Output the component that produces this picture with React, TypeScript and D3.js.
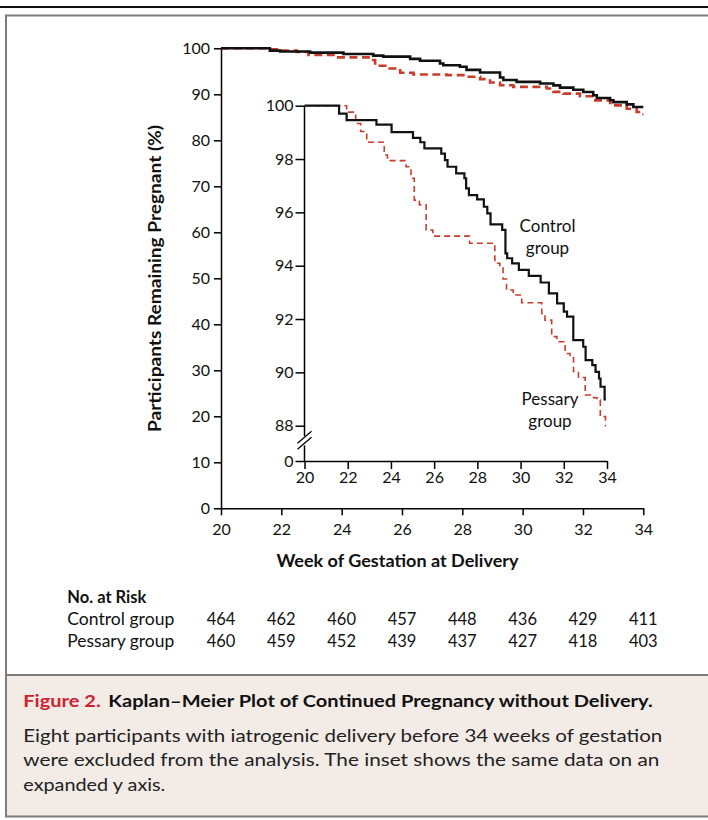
import React, { useEffect, useRef } from 'react';
import * as d3 from 'd3';

const FONT = "Lato, 'Open Sans', sans-serif";
const RED = '#c83c2c';

// axis ticks
const weekTicks = [20, 22, 24, 26, 28, 30, 32, 34];
const mainPctTicks = [0, 10, 20, 30, 40, 50, 60, 70, 80, 90, 100];
const insetPctTicks = [0, 88, 90, 92, 94, 96, 98, 100];

// main panel curves [week, % remaining pregnant]
const controlMain: [number, number][] = [
  [20, 100], [21.62, 99.5], [21.96, 99.3], [22.95, 99.05], [24.06, 98.75], [25.05, 98.4],
  [25.38, 98.2], [26.27, 97.7], [26.6, 97.3], [27.26, 96.7], [27.37, 96.3], [27.92, 96.0],
  [28.14, 95.3], [28.59, 94.75], [29.25, 93.65], [29.36, 93.1], [29.8, 92.7], [30.58, 92.35],
  [31.02, 91.95], [31.24, 91.45], [31.68, 91.0], [32.01, 90.5], [32.34, 89.8], [32.46, 89.2],
  [32.9, 88.7], [33.01, 88.3], [33.45, 87.8], [33.67, 87.25], [34, 87.25],
];
const pessaryMain: [number, number][] = [
  [20, 100], [21.62, 99.78], [21.96, 99.49], [22.51, 99.2], [22.9, 98.54], [23.84, 98.03],
  [24.94, 97.45], [25.11, 96.21], [25.49, 95.62], [25.94, 94.68], [26.38, 94.31], [27.48, 94.17],
  [28.14, 93.8], [28.59, 93.29], [28.92, 92.56], [29.25, 91.98], [29.69, 91.61], [30.8, 91.25],
  [31.02, 90.52], [31.35, 90.15], [31.9, 89.57], [32.34, 88.69], [32.9, 88.11], [33.01, 87.6],
  [33.45, 86.87], [33.78, 86.14], [33.95, 85.63], [34, 85.63],
];

// inset curves (expanded y axis)
const controlInset: [number, number][] = [
  [20, 100], [21.6, 99.7], [21.95, 99.46], [23.33, 99.29], [24.03, 99.01], [25.02, 98.79],
  [25.36, 98.63], [25.55, 98.4], [26.33, 98.2], [26.5, 97.96], [26.62, 97.71], [27.02, 97.46],
  [27.4, 97.28], [27.48, 96.9], [27.61, 96.65], [27.99, 96.49], [28.3, 96.21], [28.46, 95.96],
  [28.61, 95.55], [29.15, 95.34], [29.3, 94.46], [29.38, 94.28], [29.61, 94.09], [29.92, 93.84],
  [30.38, 93.62], [30.93, 93.37], [31.31, 92.96], [31.69, 92.59], [32.0, 92.28], [32.15, 92.09],
  [32.44, 91.21], [32.9, 90.96], [33.01, 90.46], [33.32, 90.27], [33.47, 90.02], [33.63, 89.77],
  [33.7, 89.46], [33.89, 88.99], [33.95, 88.99],
];
const pessaryInset: [number, number][] = [
  [20, 100], [21.95, 99.76], [22.37, 99.33], [22.6, 99.03], [22.88, 98.63], [23.69, 98.15],
  [23.84, 97.94], [24.7, 97.71], [24.93, 97.28], [25.08, 96.46], [25.32, 96.28], [25.63, 95.34],
  [25.94, 95.11], [27.64, 94.84], [28.81, 94.09], [29.04, 93.97], [29.19, 93.5], [29.35, 93.09],
  [29.66, 92.9], [30.05, 92.61], [30.98, 92.21], [31.13, 91.96], [31.44, 91.34], [31.68, 91.15],
  [32.06, 90.71], [32.29, 90.59], [32.45, 90.03], [32.68, 89.81], [32.99, 89.15], [33.38, 89.05],
  [33.54, 88.96], [33.69, 88.34], [33.93, 87.84], [33.95, 87.84],
];

// number at risk table
const riskGroups = ['Control group', 'Pessary group'];
const riskControl = [464, 462, 460, 457, 448, 436, 429, 411];
const riskPessary = [460, 459, 452, 439, 437, 427, 418, 403];

const captionLabel = 'Figure 2.';
const captionTitle = 'Kaplan–Meier Plot of Continued Pregnancy without Delivery.';
const captionLines = [
  'Eight participants with iatrogenic delivery before 34 weeks of gestation',
  'were excluded from the analysis. The inset shows the same data on an',
  'expanded y axis.',
];
const captionWidths = [639, 636, 142];

const mainX = d3.scaleLinear().domain([20, 34]).range([221, 643.3]);
const mainY = d3.scaleLinear().domain([0, 100]).range([508.3, 48.3]);
const insetX = d3.scaleLinear().domain([20, 34]).range([304.5, 607]);
const insetY = d3.scaleLinear().domain([0, 88, 100]).range([461, 425.7, 105.7]);

function styleAxis(g: any, size: number) {
  g.attr('font-family', FONT).attr('font-size', size);
  g.selectAll('.domain').attr('stroke', '#000').attr('stroke-width', 1.5);
  g.selectAll('.tick line').attr('stroke', '#000').attr('stroke-width', 1.5);
  g.selectAll('.tick text').attr('fill', '#111');
}

export default function App() {
  const mainXRef = useRef<SVGGElement>(null);
  const mainYRef = useRef<SVGGElement>(null);
  const insetXRef = useRef<SVGGElement>(null);
  const insetYRef = useRef<SVGGElement>(null);

  useEffect(() => {
    const xa = d3.axisBottom(mainX).tickValues(weekTicks).tickSize(7).tickSizeOuter(0).tickPadding(8);
    styleAxis(d3.select(mainXRef.current).call(xa as any), 16);
    const ya = d3.axisLeft(mainY).tickValues(mainPctTicks).tickSize(7).tickSizeOuter(0).tickPadding(4);
    styleAxis(d3.select(mainYRef.current).call(ya as any), 16);
    const ixa = d3.axisBottom(insetX).tickValues(weekTicks).tickSize(8).tickSizeOuter(0).tickPadding(3);
    styleAxis(d3.select(insetXRef.current).call(ixa as any), 16);
    const iya = d3.axisLeft(insetY).tickValues(insetPctTicks).tickSize(9).tickSizeOuter(0).tickPadding(2);
    const g = d3.select(insetYRef.current).call(iya as any);
    styleAxis(g, 16);
    g.select('.domain').remove();
  }, []);

  const mainLine = d3.line<[number, number]>().x(d => mainX(d[0])).y(d => mainY(d[1])).curve(d3.curveStepAfter);
  const insetLine = d3.line<[number, number]>().x(d => insetX(d[0])).y(d => insetY(d[1])).curve(d3.curveStepAfter);

  // axis break on the inset y axis
  const breakY = (insetY(0) + insetY(88)) / 2 - 3;
  const ax = insetX(20);

  return (
    <div style={{ position: 'absolute', left: 0, top: 0 }}>
      <svg width={708} height={820} style={{ display: 'block', fontFamily: FONT }}>
        <rect x={0} y={0} width={708} height={820} fill="#fff" />
        <line x1={0} x2={708} y1={7} y2={7} stroke="#111" strokeWidth={2} />
        {/* frame and caption band */}
        <rect x={6} y={675} width={710} height={142} fill="#f2ebe6" />
        <path d="M716,15.5 H6 V816.5 H716" fill="none" stroke="#7d7d7d" strokeWidth={2} />
        <line x1={6} x2={708} y1={675} y2={675} stroke="#7d7d7d" strokeWidth={2} />

        {/* main panel */}
        <g ref={mainXRef} transform={`translate(0,${mainY(0)})`} />
        <g ref={mainYRef} transform={`translate(${mainX(20)},0)`} />
        <path d={mainLine(pessaryMain) || ''} fill="none" stroke={RED} strokeWidth={2.6} strokeDasharray="8 4.5" />
        <path d={mainLine(controlMain) || ''} fill="none" stroke="#111" strokeWidth={2.6} />

        {/* inset */}
        <g ref={insetXRef} transform={`translate(0,${insetY(0)})`} />
        <g ref={insetYRef} transform={`translate(${ax},0)`} />
        <line x1={ax} x2={ax} y1={insetY(100)} y2={breakY - 4} stroke="#000" strokeWidth={1.5} />
        <line x1={ax} x2={ax} y1={breakY + 5} y2={insetY(0)} stroke="#000" strokeWidth={1.5} />
        <line x1={ax - 7} x2={ax + 7} y1={breakY + 3} y2={breakY - 9} stroke="#000" strokeWidth={1.3} />
        <line x1={ax - 7} x2={ax + 7} y1={breakY + 9} y2={breakY - 3} stroke="#000" strokeWidth={1.3} />
        <path d={insetLine(pessaryInset) || ''} fill="none" stroke={RED} strokeWidth={1.6} strokeDasharray="6 4" />
        <path d={insetLine(controlInset) || ''} fill="none" stroke="#111" strokeWidth={2.2} />

        <g fontSize={17} fill="#111" textAnchor="middle">
          <text x={547.5} y={231.5}>Control</text>
          <text x={547.5} y={253.5}>group</text>
          <text x={550} y={405}>Pessary</text>
          <text x={550} y={426.7}>group</text>
        </g>

        {/* axis titles */}
        <text x={397.5} y={567} textAnchor="middle" fontWeight="bold" fontSize={16.5} fill="#111"
          textLength={242} lengthAdjust="spacingAndGlyphs">Week of Gestation at Delivery</text>
        <text transform="translate(161,278.5) rotate(-90)" textAnchor="middle" fontWeight="bold" fontSize={16.5}
          fill="#111" textLength={307} lengthAdjust="spacingAndGlyphs">Participants Remaining Pregnant (%)</text>

        {/* number at risk */}
        <text x={67.3} y={602.7} fontWeight="bold" fontSize={16.5} fill="#111">No. at Risk</text>
        {[riskControl, riskPessary].map((row, i) => (
          <g key={riskGroups[i]} fontSize={16.5} fill="#111">
            <text x={67.3} y={625 + i * 21.7} textLength={107} lengthAdjust="spacingAndGlyphs">{riskGroups[i]}</text>
            {row.map((n, j) => (
              <text key={j} x={mainX(weekTicks[j])} y={625 + i * 21.7} textAnchor="middle">{n}</text>
            ))}
          </g>
        ))}

        {/* caption */}
        <text x={23.3} y={706.7} fontWeight="bold" fontSize={17.5} fill="#d0202e" textLength={77.4}
          lengthAdjust="spacingAndGlyphs">{captionLabel}</text>
        <text x={108.3} y={706.7} fontWeight="bold" fontSize={17.5} fill="#111" textLength={544.4}
          lengthAdjust="spacingAndGlyphs">{captionTitle}</text>
        {captionLines.map((l, i) => (
          <text key={i} x={23.3} y={741.7 + i * 24.5} fontSize={17.5} fill="#222" textLength={captionWidths[i]}
            lengthAdjust="spacingAndGlyphs">{l}</text>
        ))}
      </svg>
    </div>
  );
}
